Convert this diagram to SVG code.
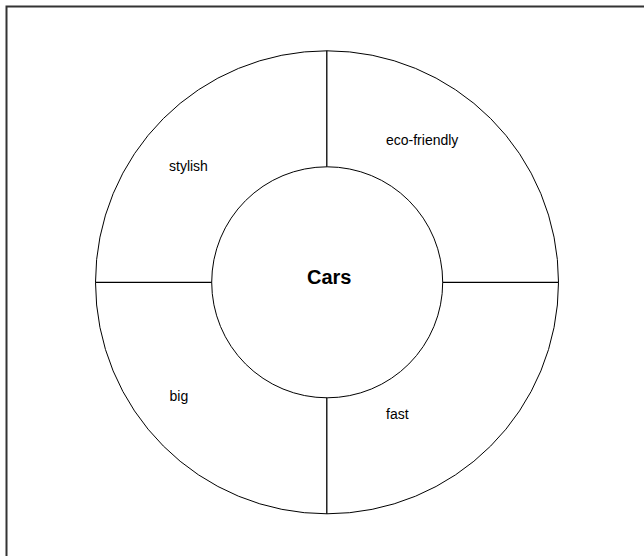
<svg xmlns="http://www.w3.org/2000/svg" width="644" height="556" viewBox="0 0 644 556">
<style>
.ring{fill:none;stroke:#000;stroke-width:1}
.spoke{stroke:#000;stroke-width:1.3}
.lbl{font-family:"Liberation Sans",Arial,sans-serif;font-size:14px;fill:#000}
.title{font-family:"Liberation Sans",Arial,sans-serif;font-size:20px;font-weight:bold;fill:#000}
</style>
<rect width="644" height="556" fill="#fff"/>
<g id="frame" stroke="#333" stroke-width="2" fill="none">
<path d="M6.5 556 V6.5 H644"/>
</g>
<g id="outer-ring"><circle class="ring" cx="327" cy="282.3" r="231.5"/></g>
<g id="connectors">
<line class="spoke" x1="326.8" y1="50.8" x2="326.8" y2="166.8"/>
<line class="spoke" x1="326.8" y1="397.8" x2="326.8" y2="513.8"/>
<line class="spoke" x1="95.5" y1="282.3" x2="211.7" y2="282.3"/>
<line class="spoke" x1="442.7" y1="282.3" x2="558.5" y2="282.3"/>
</g>
<g id="center"><circle class="ring" cx="327.2" cy="282.3" r="115.5" fill="#fff"/><text class="title" x="307" y="284">Cars</text></g>
<g id="seg-stylish"><text class="lbl" x="169" y="171">stylish</text></g>
<g id="seg-eco"><text class="lbl" x="386" y="145">eco-friendly</text></g>
<g id="seg-big"><text class="lbl" x="169.5" y="401">big</text></g>
<g id="seg-fast"><text class="lbl" x="386" y="419">fast</text></g>
</svg>
